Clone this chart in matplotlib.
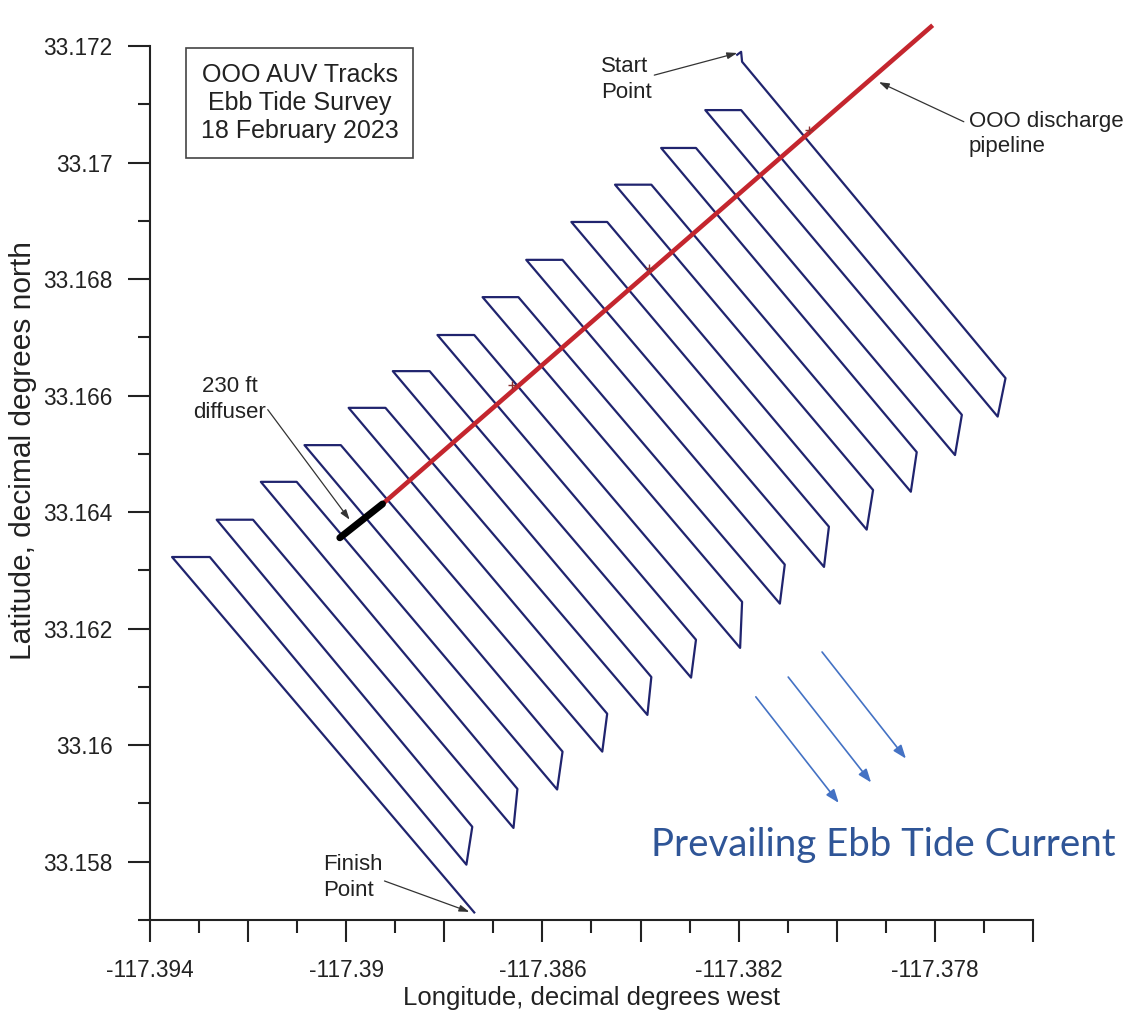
import numpy as np
import matplotlib.pyplot as plt
from matplotlib.ticker import MultipleLocator

plt.rcParams['font.family'] = ['Liberation Sans', 'DejaVu Sans']

# Survey start: small hook before the first south-east leg
start_lon = [-117.38203, -117.38195, -117.38193]
start_lat = [33.17185, 33.17190, 33.17173]

# South-east end of each leg: top and bottom of the short turn
turn_top_lon = [-117.37656, -117.37745, -117.37837, -117.37926, -117.38016, -117.38106, -117.38193,
                -117.38287, -117.38378, -117.38468, -117.38559, -117.38651, -117.38743]
turn_top_lat = [33.16630, 33.16567, 33.16503, 33.16438, 33.16375, 33.16310, 33.16246,
                33.16181, 33.16117, 33.16054, 33.15989, 33.15925, 33.15860]
turn_bot_lon = [-117.37672, -117.37759, -117.37849, -117.37939, -117.38026, -117.38116, -117.38197,
                -117.38297, -117.38386, -117.38478, -117.38570, -117.38659, -117.38755]
turn_bot_lat = [33.16564, 33.16498, 33.16435, 33.16370, 33.16306, 33.16243, 33.16167,
                33.16116, 33.16052, 33.15989, 33.15924, 33.15858, 33.15795]

# North-west end of each leg: short westward crossing
cross_lat = [33.17090, 33.17025, 33.16962, 33.16898, 33.16833, 33.16769, 33.16704,
             33.16642, 33.16579, 33.16515, 33.16452, 33.16387, 33.16323]
cross_east_lon = [-117.38195, -117.38287, -117.38378, -117.38468, -117.38559, -117.38649, -117.38739,
                  -117.38830, -117.38920, -117.39011, -117.39101, -117.39190, -117.39278]
cross_west_lon = [-117.38268, -117.38358, -117.38452, -117.38541, -117.38633, -117.38722, -117.38814,
                  -117.38905, -117.38995, -117.39085, -117.39174, -117.39264, -117.39355]

finish_lon = -117.38739
finish_lat = 33.15713

# Outfall
diffuser_lon = [-117.39013, -117.38926]
diffuser_lat = [33.16356, 33.16414]
pipeline_lon = [-117.38926, -117.37808]
pipeline_lat = [33.16414, 33.17233]
marker_lon = [-117.38663, -117.38382, -117.38057]
marker_lat = [33.16618, 33.16819, 33.17056]

# Ebb current arrows (tail lon, tail lat, head lon, head lat)
current_tail_lon = [-117.38165, -117.38099, -117.38030]
current_tail_lat = [33.16083, 33.16117, 33.16160]
current_head_lon = [-117.37996, -117.37930, -117.37859]
current_head_lat = [33.15901, 33.15936, 33.15977]

xtick_pos = [-117.394, -117.392, -117.390, -117.388, -117.386, -117.384,
             -117.382, -117.380, -117.378, -117.376]
xtick_lab = ['-117.394', '', '-117.39', '', '-117.386', '', '-117.382', '', '-117.378', '']
ytick_pos = [33.158, 33.160, 33.162, 33.164, 33.166, 33.168, 33.170, 33.172]
ytick_lab = ['33.158', '33.16', '33.162', '33.164', '33.166', '33.168', '33.17', '33.172']

# build the lawnmower path
track_lon = list(start_lon)
track_lat = list(start_lat)
for i in range(len(cross_lat)):
    track_lon += [turn_top_lon[i], turn_bot_lon[i], cross_east_lon[i], cross_west_lon[i]]
    track_lat += [turn_top_lat[i], turn_bot_lat[i], cross_lat[i], cross_lat[i]]
track_lon.append(finish_lon)
track_lat.append(finish_lat)

fig = plt.figure(figsize=(11.26, 10.11), dpi=100)
ax = fig.add_axes([0.1332, 0.0900, 0.7842, 0.8645])

ax.plot(track_lon, track_lat, color='#20246e', lw=1.6, solid_joinstyle='round')
ax.plot(pipeline_lon, pipeline_lat, color='#c4262e', lw=3.3, clip_on=False, zorder=3)
ax.plot(marker_lon, marker_lat, '+', color='#8a3030', ms=6, mew=1, zorder=4)
ax.plot(diffuser_lon, diffuser_lat, color='black', lw=5, solid_capstyle='round', zorder=4)

for tx, ty, hx, hy in zip(current_tail_lon, current_tail_lat, current_head_lon, current_head_lat):
    ax.annotate('', xy=(hx, hy), xytext=(tx, ty),
                arrowprops=dict(arrowstyle='-|>,head_length=0.8,head_width=0.3',
                                color='#4472c4', lw=1.2, shrinkA=0, shrinkB=0))

ax.text(-117.38378, 33.15829, 'Prevailing Ebb Tide Current', fontsize=27.6,
        family=['Lato', 'DejaVu Sans'], color='#2f5597', va='center', ha='left')

arrow_kw = dict(arrowstyle='-|>,head_length=0.6,head_width=0.2', color='#333333', lw=0.9,
                shrinkA=0, shrinkB=0)
note_kw = dict(fontsize=16, color='#222222', linespacing=1.3, va='center')

ax.annotate('', xy=(-117.38203, 33.17188), xytext=(-117.38372, 33.17150), arrowprops=arrow_kw)
ax.text(-117.38480, 33.17143, 'Start\nPoint', ha='left', **note_kw)

ax.annotate('', xy=(-117.37914, 33.17138), xytext=(-117.37741, 33.17070), arrowprops=arrow_kw)
ax.text(-117.37731, 33.17049, 'OOO discharge\npipeline', ha='left', **note_kw)

ax.annotate('', xy=(-117.38993, 33.16387), xytext=(-117.39160, 33.16576), arrowprops=arrow_kw)
ax.text(-117.39237, 33.16594, '230 ft\ndiffuser', ha='center', **note_kw)

ax.annotate('', xy=(-117.38749, 33.15714), xytext=(-117.38922, 33.15767), arrowprops=arrow_kw)
ax.text(-117.39048, 33.15773, 'Finish\nPoint', ha='left', **note_kw)

ax.text(-117.39095, 33.17102, 'OOO AUV Tracks\nEbb Tide Survey\n18 February 2023',
        ha='center', va='center', fontsize=18, color='#222222', linespacing=1.2,
        bbox=dict(boxstyle='square,pad=0.6', fc='white', ec='#444444', lw=1.2))

ax.set_xlim(-117.394, -117.376)
ax.set_ylim(33.157, 33.172)
ax.set_xticks(xtick_pos, labels=xtick_lab)
ax.set_yticks(ytick_pos, labels=ytick_lab)
ax.xaxis.set_minor_locator(MultipleLocator(0.001))
ax.yaxis.set_minor_locator(MultipleLocator(0.001))
ax.tick_params(which='major', length=16, width=1.5, color='#222222', labelsize=16.3,
               labelcolor='#222222')
ax.tick_params(axis='y', which='major', pad=11)
ax.tick_params(axis='x', which='major', pad=12)
ax.tick_params(which='minor', length=9, width=1.5, color='#222222')
for side in ['top', 'right']:
    ax.spines[side].set_visible(False)
for side in ['left', 'bottom']:
    ax.spines[side].set_linewidth(1.5)
    ax.spines[side].set_color('#222222')

ax.set_xlabel('Longitude, decimal degrees west', fontsize=18.5, color='#222222')
ax.set_ylabel('Latitude, decimal degrees north', fontsize=21.5, color='#222222')
ax.xaxis.set_label_coords(0.5, -0.075)
ax.yaxis.set_label_coords(-0.128, 0.537)

fig.savefig('out.png', dpi=100, facecolor='white')
